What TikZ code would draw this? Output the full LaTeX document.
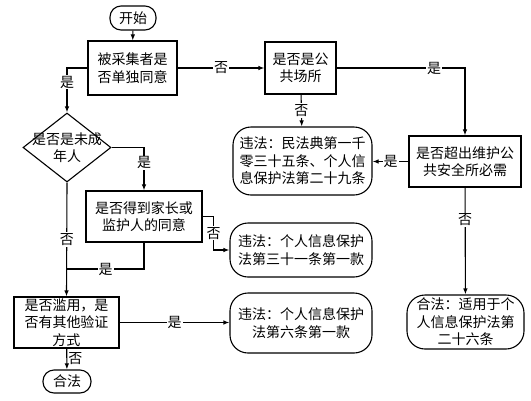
\documentclass[tikz,border=0pt]{standalone}
\usepackage{fontspec}
\newfontfamily\cjk{Noto Sans CJK SC}
\usetikzlibrary{arrows.meta,shapes.geometric}
\begin{document}
\begin{tikzpicture}[x=1pt,y=-1pt,
  every node/.style={font=\cjk\fontsize{14}{17.5}\selectfont, inner sep=0pt, align=center},
  box/.style={draw, line width=1.1pt, fill=white, rectangle},
  pill/.style={draw, line width=1.1pt, fill=white, rounded corners=11pt},
  law/.style={draw, line width=1.1pt, fill=white, rounded corners=18pt},
  arr/.style={line width=1.1pt, -{Latex[length=6pt,width=4.5pt]}},
  ln/.style={line width=1.1pt},
  lab/.style={fill=white, inner sep=1pt}]
\useasboundingbox (0,0) rectangle (531,400);

\node[pill, minimum width=46pt, minimum height=24pt] (start) at (133,18) {开始};
\node[box, minimum width=89pt, minimum height=54pt] (b1) at (132.5,68) {被采集者是\\否单独同意};
\node[box, minimum width=71pt, minimum height=52pt] (b2) at (300.5,68) {是否是公\\共场所};
\node[box, minimum width=112pt, minimum height=51pt] (b3) at (465,161.5) {是否超出维护公\\共安全所必需};
\node[law, minimum width=139pt, minimum height=68pt] (r1) at (302.5,161) {违法：民法典第一千\\零三十五条、个人信\\息保护法第二十九条};
\node[law, minimum width=142pt, minimum height=54pt] (r2) at (301,250) {违法：个人信息保护\\法第三十一条第一款};
\node[law, minimum width=142pt, minimum height=60pt] (r3) at (301,323) {违法：个人信息保护\\法第六条第一款};
\node[law, minimum width=117pt, minimum height=54pt] (r4) at (465.5,322) {合法：适用于个\\人信息保护法第\\二十六条};
\node[draw, diamond, line width=1.1pt, fill=white, minimum width=88pt, minimum height=69pt, inner sep=0pt] (d) at (67,147.5) {};
\node (dt) at (67,147.5) {是否是未成\\年人};
\node[box, minimum width=116pt, minimum height=51pt] (b4) at (144,216.5) {是否得到家长或\\监护人的同意};
\node[box, minimum width=105pt, minimum height=51pt] (b5) at (66.5,322.5) {是否滥用，是\\否有其他验证\\方式};
\node[pill, minimum width=48pt, minimum height=23pt] (end) at (67,381.5) {合法};

\draw[arr] (start) -- (b1);
\draw[arr] (b1) -- node[lab]{否} (b2);
\draw[arr] (b2.east) -| node[lab, pos=0.38]{是} (b3.north);
\draw[arr] (b2) -- node[lab]{否} (r1);
\draw[arr] (b3.west) -- node[lab]{是} (r1.east |- b3.west);
\draw[arr] (b3) -- node[lab, pos=0.3]{否} (r4);
\draw[arr] (b1.west) -| node[lab, pos=0.66]{是} (d.north);
\draw[arr] (d.east) -| node[lab, pos=0.68]{是} (b4.north);
\draw[arr] (d.south) -- node[lab]{否} (b5.north);
\draw[arr] (b4.east) -- ++(11,0) |- node[lab, pos=0.25]{否} (r2.west);
\coordinate (j) at (67,269);
\draw[ln] (b4.south) |- node[lab, pos=0.75]{是} (j);
\draw[arr] (b5.east) -- node[lab]{是} (r3.west |- b5.east);
\draw[arr] (b5) -- node[right, xshift=1pt]{否} (end);
\end{tikzpicture}
\end{document}
